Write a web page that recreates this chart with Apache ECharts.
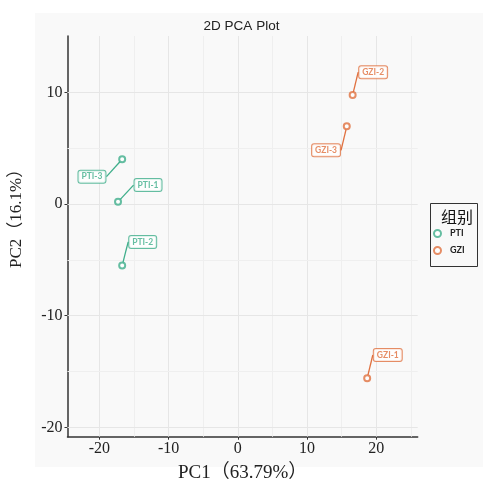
<!DOCTYPE html>
<html>
<head>
<meta charset="utf-8">
<script src="https://cdn.jsdelivr.net/npm/echarts@6/dist/echarts.min.js"></script>
<style>html,body{margin:0;padding:0;background:#fff;}#c{width:483px;height:484px;}</style>
</head>
<body>
<div id="c"></div>
<script>
// ---- data ----
const groups = ['PTI', 'GZI'];
const ptiNames = ['PTI-1', 'PTI-2', 'PTI-3'];
const ptiPC1 = [-17.3, -16.7, -16.7];
const ptiPC2 = [0.2, -5.5, 4.0];
const gziNames = ['GZI-1', 'GZI-2', 'GZI-3'];
const gziPC1 = [18.7, 16.6, 15.75];
const gziPC2 = [-15.6, 9.76, 6.95];
const xTickValues = [-20, -10, 0, 10, 20];
const yTickValues = [-20, -10, 0, 10];
const xGridValues = [-20, -15, -10, -5, 0, 5, 10, 15, 20, 25];
const yGridValues = [-20, -15, -10, -5, 0, 5, 10];
const xTitle = 'PC1（63.79%）';
const yTitle = 'PC2（16.1%）';
const chartTitle = '2D PCA Plot';
const legendTitle = '组别';

// ---- styling (not data) ----
const colors = { PTI: '#3fae8b', GZI: '#e0703f' };
const labelOffsets = {
  'PTI-1': [30, -16.7], 'PTI-2': [20.5, -23.5], 'PTI-3': [-30.2, 17.3],
  'GZI-1': [20.6, -23.3], 'GZI-2': [20.5, -22.8], 'GZI-3': [-20.7, 24]
};
const serif = '"Liberation Serif","DejaVu Serif","Noto Sans CJK SC",serif';

function build(names, xs, ys) {
  return names.map((n, i) => ({ name: n, value: [xs[i], ys[i]] }));
}

function scatterSeries(group, data) {
  const c = colors[group];
  return {
    name: group,
    type: 'scatter',
    data: data,
    symbol: 'emptyCircle',
    symbolSize: 6,
    z: 3,
    itemStyle: { color: c, borderColor: c, borderWidth: 1.4 },
    label: {
      show: true,
      position: 'inside',
      formatter: p => p.name,
      color: c,
      fontSize: 8.5,
      fontWeight: 'bold',
      fontFamily: 'Lato, "Liberation Sans", sans-serif',
      backgroundColor: '#fff',
      borderColor: c,
      borderWidth: 1,
      borderRadius: 2,
      padding: [2, 3, 1, 3]
    },
    labelLayout: p => {
      const o = labelOffsets[p.text] || [0, 0];
      return { dx: o[0], dy: o[1] };
    },
    labelLine: { show: true, lineStyle: { color: c, width: 1.3 } },
    emphasis: { disabled: true },
    animation: false
  };
}

const gridLines = xGridValues.map(v => ({ xAxis: v, lineStyle: { color: v % 10 === 0 ? '#e6e6e6' : '#efefef' } }))
  .concat(yGridValues.map(v => ({ yAxis: v, lineStyle: { color: v % 10 === 0 ? '#e6e6e6' : '#efefef' } })));

const s1 = scatterSeries('PTI', build(ptiNames, ptiPC1, ptiPC2));
s1.markLine = {
  silent: true, symbol: 'none', z: 1, animation: false,
  label: { show: false },
  lineStyle: { type: 'solid', width: 1 },
  data: gridLines
};
const s2 = scatterSeries('GZI', build(gziNames, gziPC1, gziPC2));

const chart = echarts.init(document.getElementById('c'), null, { renderer: 'canvas' });
chart.setOption({
  animation: false,
  backgroundColor: '#ffffff',
  title: {
    text: chartTitle, left: 'center', top: 14,
    textStyle: { fontSize: 13.5, fontWeight: 'normal', color: '#222', fontFamily: '"Liberation Sans", Arial, sans-serif' }
  },
  graphic: [
    { type: 'rect', z: -10, silent: true, shape: { x: 35, y: 13, width: 448, height: 454 }, style: { fill: '#f9f9f9' } },
    { type: 'rect', z: 10, silent: true, shape: { x: 430.5, y: 203.5, width: 47, height: 63 }, style: { fill: 'none', stroke: '#333', lineWidth: 1 } },
    { type: 'text', z: 10, silent: true, left: 441, top: 209, style: { text: legendTitle, fontSize: 16, fill: '#111', fontFamily: '"Noto Sans CJK SC", sans-serif' } }
  ],
  grid: { left: 67.5, top: 36, right: 65.3, bottom: 47.3, outerBoundsMode: 'none', containLabel: false },
  legend: {
    data: groups,
    orient: 'vertical',
    left: 428, top: 224,
    itemWidth: 7, itemHeight: 7, itemGap: 8,
    textStyle: { fontSize: 9, fontWeight: 'bold', color: '#222', fontFamily: 'Lato, "Liberation Sans", sans-serif', padding: [0, 0, 0, 4] }
  },
  xAxis: {
    type: 'value', min: -24.6, max: 26.0,
    name: xTitle, nameLocation: 'middle', nameGap: 27,
    nameTextStyle: { fontSize: 19, color: '#222', fontFamily: serif },
    axisLine: { show: true, onZero: false, lineStyle: { color: '#333', width: 1.5 } },
    axisTick: { show: true, length: 3, customValues: xTickValues, lineStyle: { color: '#333' } },
    axisLabel: { customValues: xTickValues, fontSize: 16, color: '#222', margin: 4, fontFamily: serif },
    splitLine: { show: false }
  },
  yAxis: {
    type: 'value', min: -20.83, max: 15.04,
    name: yTitle, nameLocation: 'middle', nameGap: 42,
    nameTextStyle: { fontSize: 17, color: '#222', fontFamily: serif, padding: [0, 0, 0, 44] },
    axisLine: { show: true, onZero: false, lineStyle: { color: '#333', width: 1.5 } },
    axisTick: { show: true, length: 3, customValues: yTickValues, lineStyle: { color: '#333' } },
    axisLabel: { customValues: yTickValues, fontSize: 16, color: '#222', margin: 5, fontFamily: serif },
    splitLine: { show: false }
  },
  series: [s1, s2]
});
</script>
</body>
</html>
